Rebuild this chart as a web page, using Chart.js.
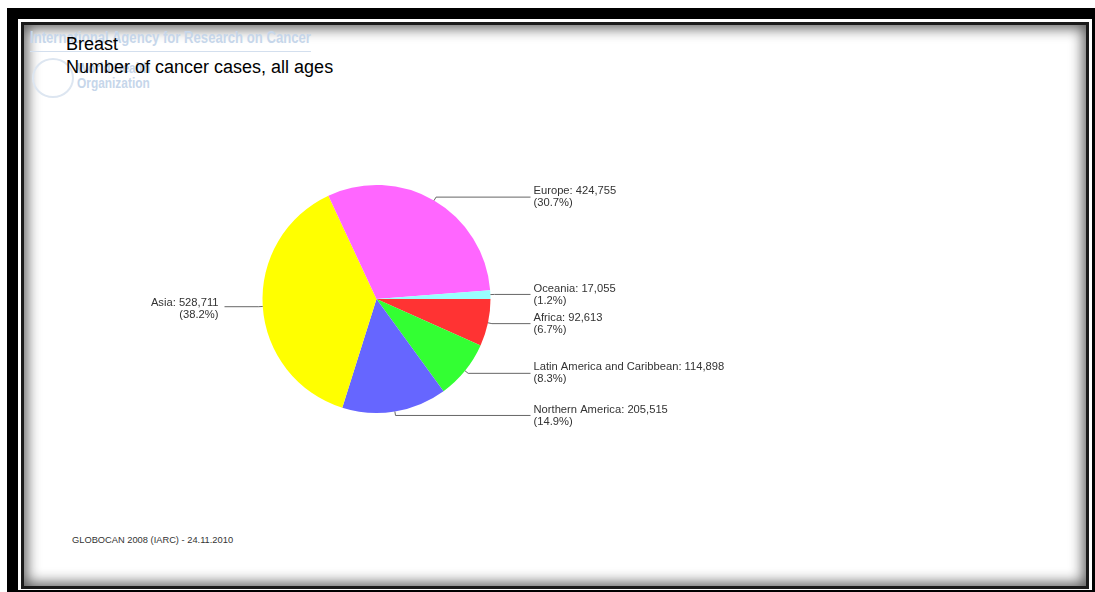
<!DOCTYPE html>
<html>
<head>
<meta charset="utf-8">
<script src="https://cdn.jsdelivr.net/npm/chart.js@4/dist/chart.umd.min.js"></script>
<style>
  html, body { margin: 0; padding: 0; background: #fff; overflow: hidden; }
  body { width: 1095px; height: 592px; position: relative; font-family: "Liberation Sans", Arial, sans-serif; }
  .outer { position: absolute; left: 7px; top: 8px; width: 1096px; height: 593px; box-sizing: border-box; border: 11px solid #000; }
  .inner { position: absolute; left: 21px; top: 22px; width: 1068px; height: 567px; box-sizing: border-box;
           border: 3px solid #1a1a1a; box-shadow: inset 0 0 14px 3px rgba(0,0,0,0.65); background: #fff; }
  .wm { position: absolute; color: #c6d6ea; font-weight: bold; white-space: nowrap; transform-origin: left top; }
  .wm-line { position: absolute; left: 30px; top: 51px; width: 281px; height: 1px; background: #d3dfee; }
  .emblem { position: absolute; left: 32px; top: 58px; width: 38px; height: 36px; border: 2px solid #dde6f1; border-radius: 50%; }
  .title { position: absolute; left: 66px; color: #000; font-size: 18px; white-space: nowrap; }
  .footer { position: absolute; left: 72px; top: 535px; font-size: 9.3px; color: #333; white-space: nowrap; }
  canvas { position: absolute; left: 0; top: 0; }
</style>
</head>
<body>
<div class="outer"></div>
<div class="inner"></div>
<div class="wm" style="left:30px; top:29px; font-size:16px; transform: scaleX(0.82);">International Agency for Research on Cancer</div>
<div class="wm-line"></div>
<div class="emblem"></div>
<div class="wm" style="left:77px; top:60px; font-size:14px; transform: scaleX(0.85);">World Health</div>
<div class="wm" style="left:77px; top:75px; font-size:14px; transform: scaleX(0.85);">Organization</div>
<div class="title" style="top:34px;">Breast</div>
<div class="title" style="top:57px;">Number of cancer cases, all ages</div>
<div class="footer">GLOBOCAN 2008 (IARC) - 24.11.2010</div>
<canvas id="pieChart" width="1095" height="592"></canvas>

<script>
// Regions, clockwise from 3 o'clock
const regions = ['Africa', 'Latin America and Caribbean', 'Northern America', 'Asia', 'Europe', 'Oceania'];
const cases = [92613, 114898, 205515, 528711, 424755, 17055];
const percents = ['6.7', '8.3', '14.9', '38.2', '30.7', '1.2'];
const sliceColors = ['#ff3333', '#33ff33', '#6666ff', '#ffff00', '#ff66ff', '#99ffff'];

// Draws leader lines and the two-line labels next to each slice
const leaderLabels = {
    id: 'leaderLabels',
    afterDatasetsDraw(chart) {
        const ctx = chart.ctx;
        const arcs = chart.getDatasetMeta(0).data;
        ctx.save();
        ctx.font = '11.2px "Liberation Sans", Arial, sans-serif';
        ctx.fillStyle = '#333';
        ctx.strokeStyle = '#666';
        ctx.lineWidth = 1;
        ctx.textBaseline = 'middle';

        arcs.forEach((arc, i) => {
            const p = arc.getProps(['x', 'y', 'startAngle', 'endAngle', 'outerRadius'], true);
            const mid = (p.startAngle + p.endAngle) / 2;
            const r = p.outerRadius;
            const x1 = p.x + Math.cos(mid) * r;
            const y1 = p.y + Math.sin(mid) * r;
            const x2 = p.x + Math.cos(mid) * (r + 4);
            const y2 = p.y + Math.sin(mid) * (r + 4);
            const right = Math.cos(mid) >= 0;
            const colX = right ? p.x + r + 40 : p.x - r - 38;

            ctx.beginPath();
            ctx.moveTo(x1, y1);
            ctx.lineTo(x2, y2);
            ctx.lineTo(colX, y2);
            ctx.stroke();

            const line1 = regions[i] + ': ' + cases[i].toLocaleString('en-US');
            const line2 = '(' + percents[i] + '%)';
            if (right) {
                ctx.textAlign = 'left';
                ctx.fillText(line1, colX + 3, y2 - 6);
                ctx.fillText(line2, colX + 3, y2 + 6);
            } else {
                ctx.textAlign = 'right';
                ctx.fillText(line1, colX - 6, y2 - 4);
                ctx.fillText(line2, colX - 6, y2 + 8);
            }
        });
        ctx.restore();
    }
};

new Chart(document.getElementById('pieChart').getContext('2d'), {
    type: 'pie',
    data: {
        labels: regions,
        datasets: [{
            data: cases,
            backgroundColor: sliceColors,
            borderWidth: 0,
        }],
    },
    options: {
        responsive: false,
        animation: false,
        rotation: 90,
        layout: {
            padding: { left: 262.5, right: 604.5, top: 185, bottom: 179 },
        },
        plugins: {
            legend: { display: false },
            tooltip: { enabled: false },
        },
    },
    plugins: [leaderLabels],
});
</script>
</body>
</html>
